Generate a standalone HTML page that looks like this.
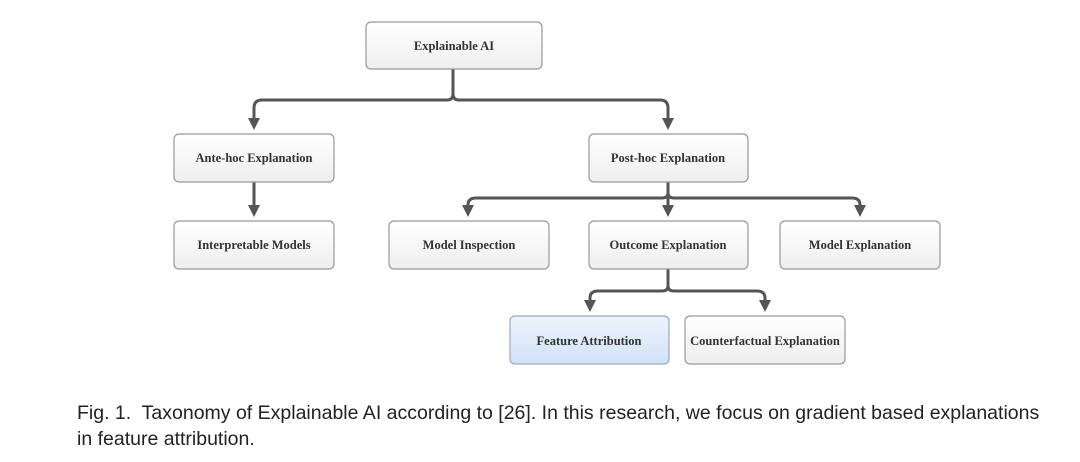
<!DOCTYPE html>
<html><head><style>
body{margin:0;width:1080px;height:462px;background:#fff;overflow:hidden;font-family:"Liberation Sans",sans-serif}
.cap{position:absolute;left:77px;top:400px;font-size:19.5px;color:#222;line-height:26px;white-space:nowrap}
</style></head><body>
<svg width="1080" height="462" style="position:absolute;left:0;top:0">
<defs>
<linearGradient id="g" x1="0" y1="0" x2="0" y2="1"><stop offset="0" stop-color="#ffffff"/><stop offset="1" stop-color="#eeeeee"/></linearGradient>
<linearGradient id="b" x1="0" y1="0" x2="0" y2="1"><stop offset="0" stop-color="#eef4fd"/><stop offset="1" stop-color="#d2e2f8"/></linearGradient>
<marker id="a" markerWidth="4" markerHeight="4" refX="2" refY="2" orient="auto" markerUnits="strokeWidth"><path d="M0,0 L4,2 L0,4 z" fill="#555"/></marker>
</defs>
<g fill="none" stroke="#555" stroke-width="3">
<path d="M453 69 V94 Q453 100 447 100 H262 Q254 100 254 108 V124" marker-end="url(#a)"/>
<path d="M453 94 Q453 100 459 100 H660 Q668 100 668 108 V124" marker-end="url(#a)"/>
<path d="M254 182 V211" marker-end="url(#a)"/>
<path d="M668 182 V193 Q668 198 662 198 H476 Q468 198 468 205 V211" marker-end="url(#a)"/>
<path d="M668 193 V211" marker-end="url(#a)"/>
<path d="M668 193 Q668 198 674 198 H852 Q860 198 860 205 V211" marker-end="url(#a)"/>
<path d="M668 269 V286 Q668 291 662 291 H598 Q590 291 590 298 V306" marker-end="url(#a)"/>
<path d="M668 286 Q668 291 674 291 H757 Q765 291 765 298 V306" marker-end="url(#a)"/>
</g>
<g stroke="#999" stroke-width="1.2" font-family="Liberation Serif,serif" font-weight="bold" font-size="12.5" text-anchor="middle">
<rect x="366" y="22" width="176" height="47" rx="5" fill="url(#g)"/>
<rect x="174" y="134" width="160" height="48" rx="5" fill="url(#g)"/>
<rect x="589" y="134" width="159" height="48" rx="5" fill="url(#g)"/>
<rect x="174" y="221" width="160" height="48" rx="5" fill="url(#g)"/>
<rect x="389" y="221" width="160" height="48" rx="5" fill="url(#g)"/>
<rect x="589" y="221" width="159" height="48" rx="5" fill="url(#g)"/>
<rect x="780" y="221" width="160" height="48" rx="5" fill="url(#g)"/>
<rect x="510" y="316" width="159" height="48" rx="5" fill="url(#b)" stroke="#9ab"/>
<rect x="685" y="316" width="160" height="48" rx="5" fill="url(#g)"/>
<g stroke="none" fill="#333">
<text x="454" y="50">Explainable AI</text>
<text x="254" y="162">Ante-hoc Explanation</text>
<text x="668" y="162">Post-hoc Explanation</text>
<text x="254" y="249">Interpretable Models</text>
<text x="469" y="249">Model Inspection</text>
<text x="668" y="249">Outcome Explanation</text>
<text x="860" y="249">Model Explanation</text>
<text x="589" y="345">Feature Attribution</text>
<text x="765" y="345">Counterfactual Explanation</text>
</g></g>
</svg>
<div class="cap">Fig. 1.&nbsp; Taxonomy of Explainable AI according to [26]. In this research, we focus on gradient based explanations<br>in feature attribution.</div>
</body></html>
